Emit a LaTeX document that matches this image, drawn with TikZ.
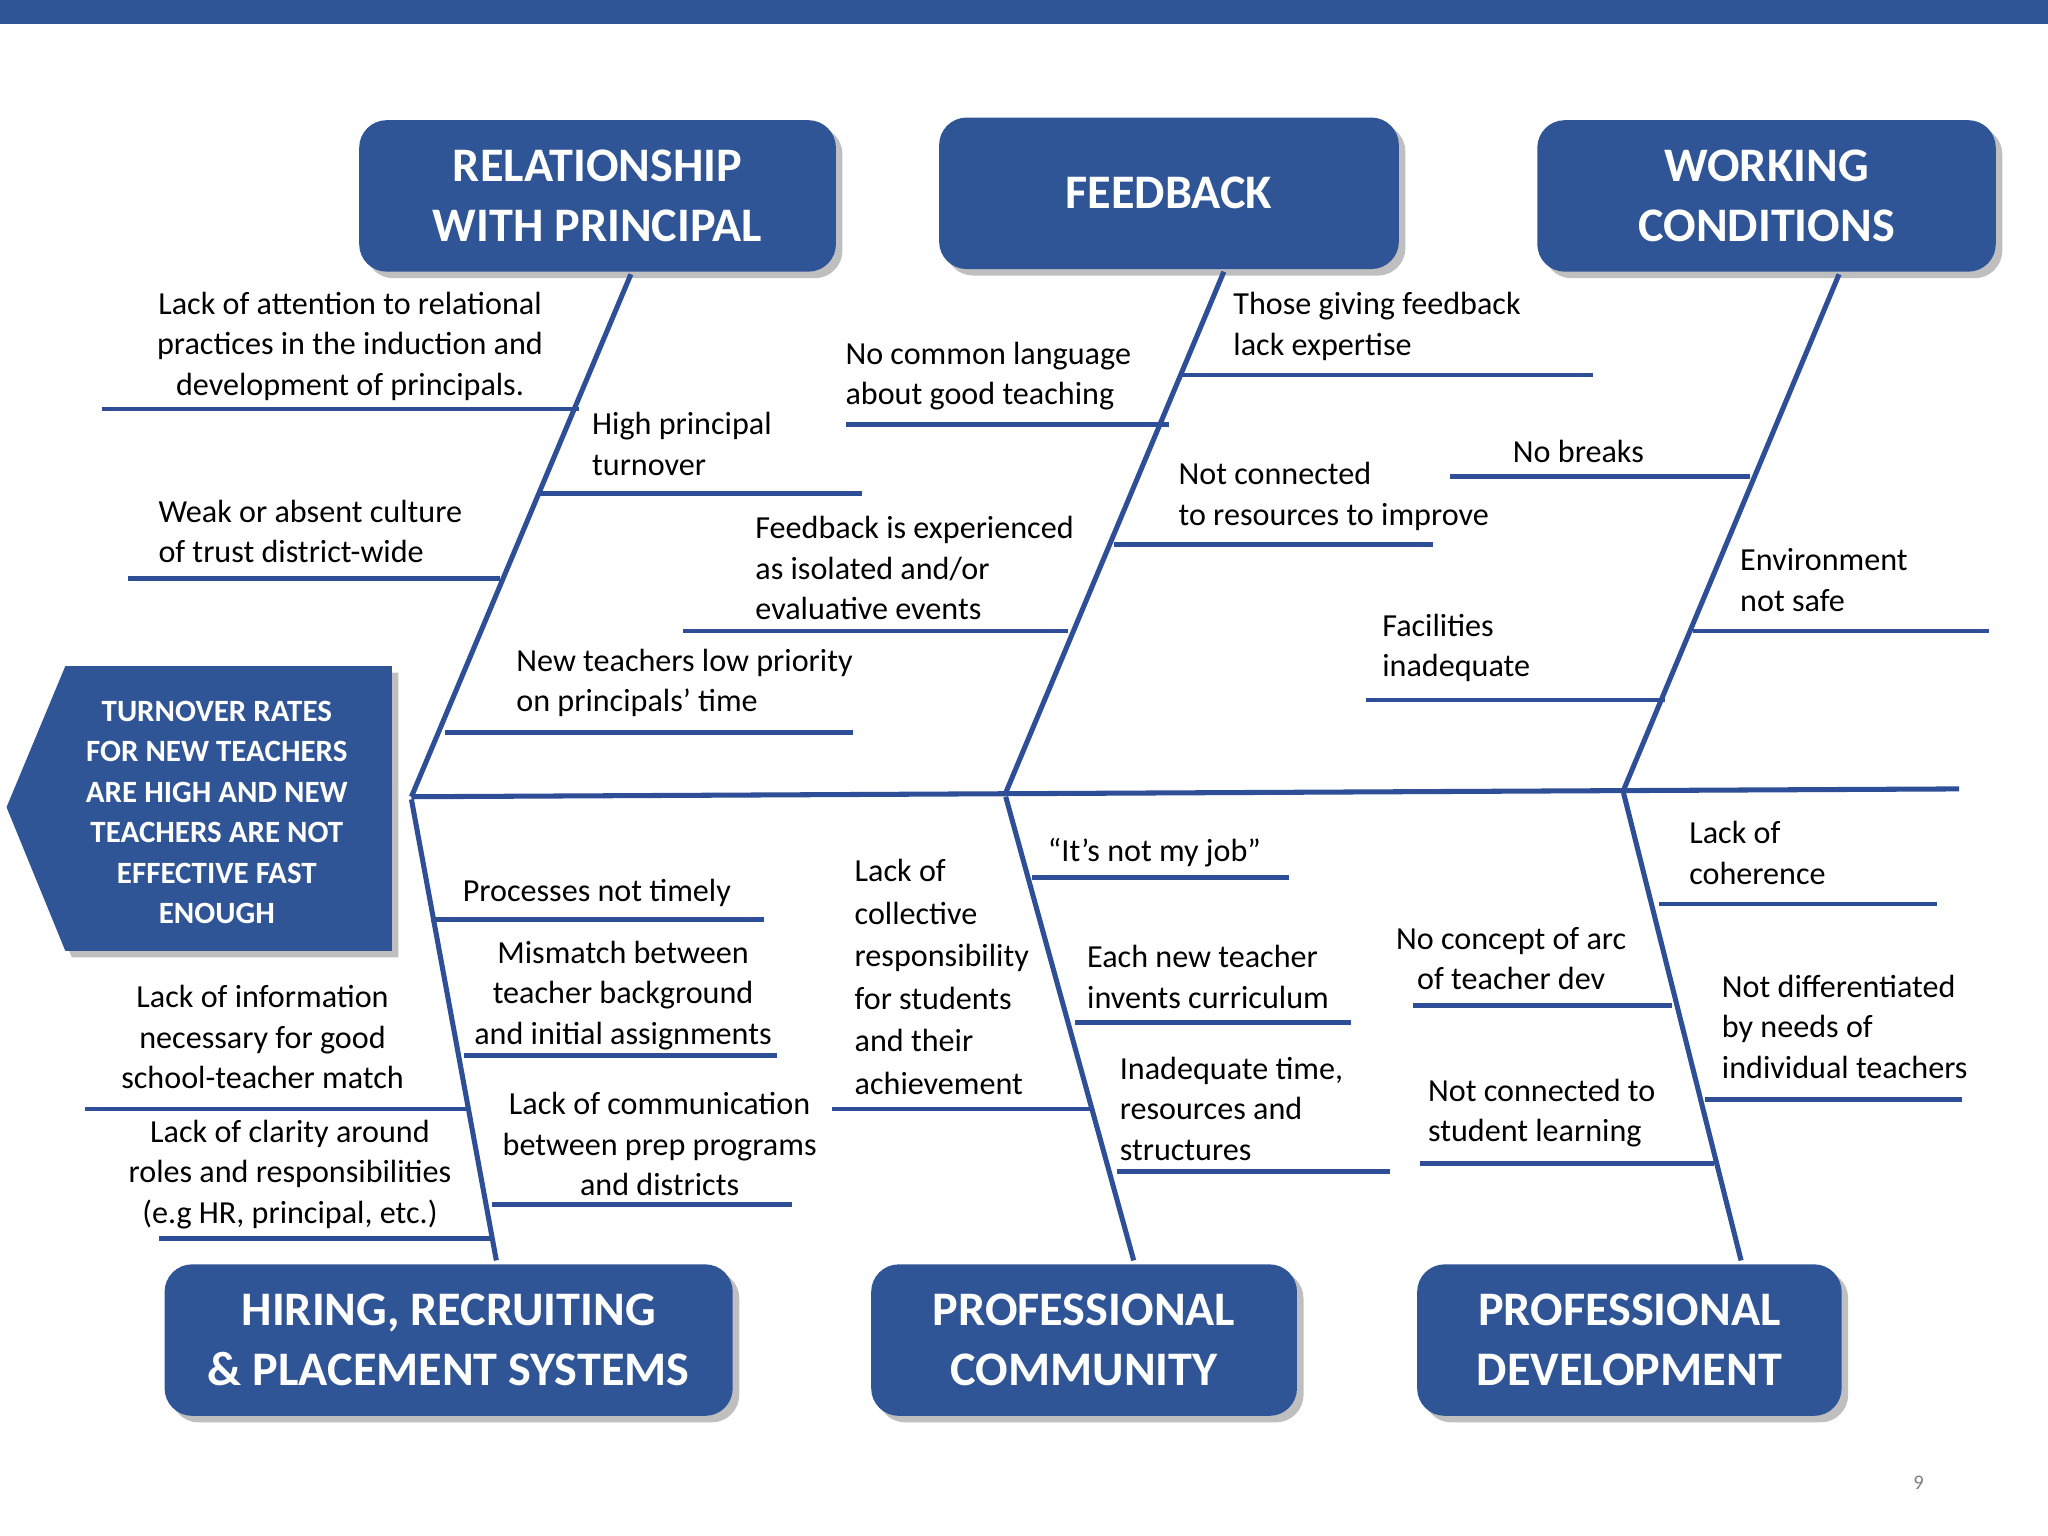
\documentclass[tikz,border=0pt]{standalone}
\usepackage{fontspec}
\setmainfont{Carlito}
\definecolor{bl}{HTML}{2F5597}
\definecolor{ln}{HTML}{2E4F97}
\begin{document}
\begin{tikzpicture}[x=0.02cm,y=-0.02cm,
 hdr/.style={draw=none,fill=bl,rounded corners=12pt,text=white,font=\fontsize{21}{26}\selectfont\bfseries,align=center},
 bone/.style={ln,line width=2.2pt},
 sub/.style={ln,line width=2pt},
 lt/.style={font=\fontsize{14}{17.6}\selectfont,align=left,anchor=west,inner sep=0},
 ct/.style={font=\fontsize{14}{17.6}\selectfont,align=center,inner sep=0}]
\useasboundingbox (0,0) rectangle (1568,1176);
\fill[bl] (0,0) rectangle (1568,18);
% header boxes with shadows
\foreach \a/\b/\c/\d/\n/\t in {275/92/640/208/r/{RELATIONSHIP\\WITH PRINCIPAL},719/90/1071/206/f/FEEDBACK,1177/92/1528/208/w/{WORKING\\CONDITIONS},126/968/561/1084/h/{HIRING, RECRUITING\\\& PLACEMENT SYSTEMS},667/968/993/1084/c/{PROFESSIONAL\\COMMUNITY},1085/968/1410/1084/d/{PROFESSIONAL\\DEVELOPMENT}}{
 \fill[black!25,rounded corners=12pt] (\a+5,\b+5) rectangle (\c+5,\d+5);
 \fill[bl,rounded corners=12pt] (\a,\b) rectangle (\c,\d);
 \node[hdr] (\n) at ({(\a+\c)/2},{(\b+\d)/2}) {\t};
}
% head
\fill[black!25] (10,623)--(55,515)--(305,515)--(305,733)--(55,733)--cycle;
\fill[bl] (5,618)--(50,510)--(300,510)--(300,728)--(50,728)--cycle;
\node[text=white,font=\fontsize{13.5}{17.6}\selectfont\bfseries,align=center] (head) at (166,622) {TURNOVER RATES\\FOR NEW TEACHERS\\ARE HIGH AND NEW\\TEACHERS ARE NOT\\EFFECTIVE FAST\\ENOUGH};
% spine and bones
\coordinate (s0) at (315,610); \coordinate (s1) at (1500,604);
\draw[bone] (s0)--(s1);
\draw[bone] (483,210)--(315,610);
\draw[bone] (937,208)--(770,607);
\draw[bone] (1408,210)--(1243,605);
\draw[bone] (315,612)--(380,965);
\draw[bone] (770,610)--(868,965);
\draw[bone] (1243,607)--(1333,965);
% sub lines
\foreach \a/\b/\y in {78/443/313,413/660/378,98/383/443,341/653/561,648/895/325,903/1220/287,523/818/483,853/1097/417,1110/1340/365,1296/1523/483,1046/1275/536,330/585/704,355/595/808,65/357/849,377/606/922,122/375/948,790/987/672,823/1034/783,637/835/849,855/1064/897,1270/1483/692,1082/1280/770,1305/1502/842,1087/1312/891}
 \draw[sub] (\a,\y)--(\b,\y);
% texts
\node[ct] (t1) at (268,265) {Lack of attention to relational\\practices in the induction and\\development of principals.};
\node[lt] (t2) at (453,340) {High principal\\turnover};
\node[lt] (t3) at (121,407) {Weak or absent culture\\of trust district-wide};
\node[lt] (t4) at (395,523) {New teachers low priority\\on principals’ time};
\node[lt] (t5) at (647,288) {No common language\\about good teaching};
\node[lt] (t6) at (944,250) {Those giving feedback\\lack expertise};
\node[lt] (t7) at (578,435) {Feedback is experienced\\as isolated and/or\\evaluative events};
\node[lt] (t8) at (902,380) {Not connected\\to resources to improve};
\node[lt] (t9) at (1158,346) {No breaks};
\node[lt] (t10) at (1332,444) {Environment\\not safe};
\node[lt] (t11) at (1058,496) {Facilities\\inadequate};
\node[lt] (t12) at (354,684) {Processes not timely};
\node[ct] (t13) at (477,762) {Mismatch between\\teacher background\\and initial assignments};
\node[ct] (t14) at (201,794) {Lack of information\\necessary for good\\school-teacher match};
\node[ct] (t15) at (222,899) {Lack of clarity around\\roles and responsibilities\\(e.g HR, principal, etc.)};
\node[ct] (t16) at (505,876) {Lack of communication\\between prep programs\\and districts};
\node[lt,font=\fontsize{14}{18.5}\selectfont] (t17) at (654,748) {Lack of\\collective\\responsibility\\for students\\and their\\achievement};
\node[lt] (t18) at (802,653) {“It’s not my job”};
\node[lt] (t19) at (832,748) {Each new teacher\\invents curriculum};
\node[lt] (t20) at (857,849) {Inadequate time,\\resources and\\structures};
\node[lt] (t21) at (1293,653) {Lack of\\coherence};
\node[ct] (t22) at (1157,734) {No concept of arc\\of teacher dev};
\node[lt] (t23) at (1318,786) {Not differentiated\\by needs of\\individual teachers};
\node[lt] (t24) at (1093,852) {Not connected to\\student learning};
\node[text=black!50,font=\fontsize{9}{10}\selectfont] (pg) at (1469,1135) {9};
\end{tikzpicture}
\end{document}
